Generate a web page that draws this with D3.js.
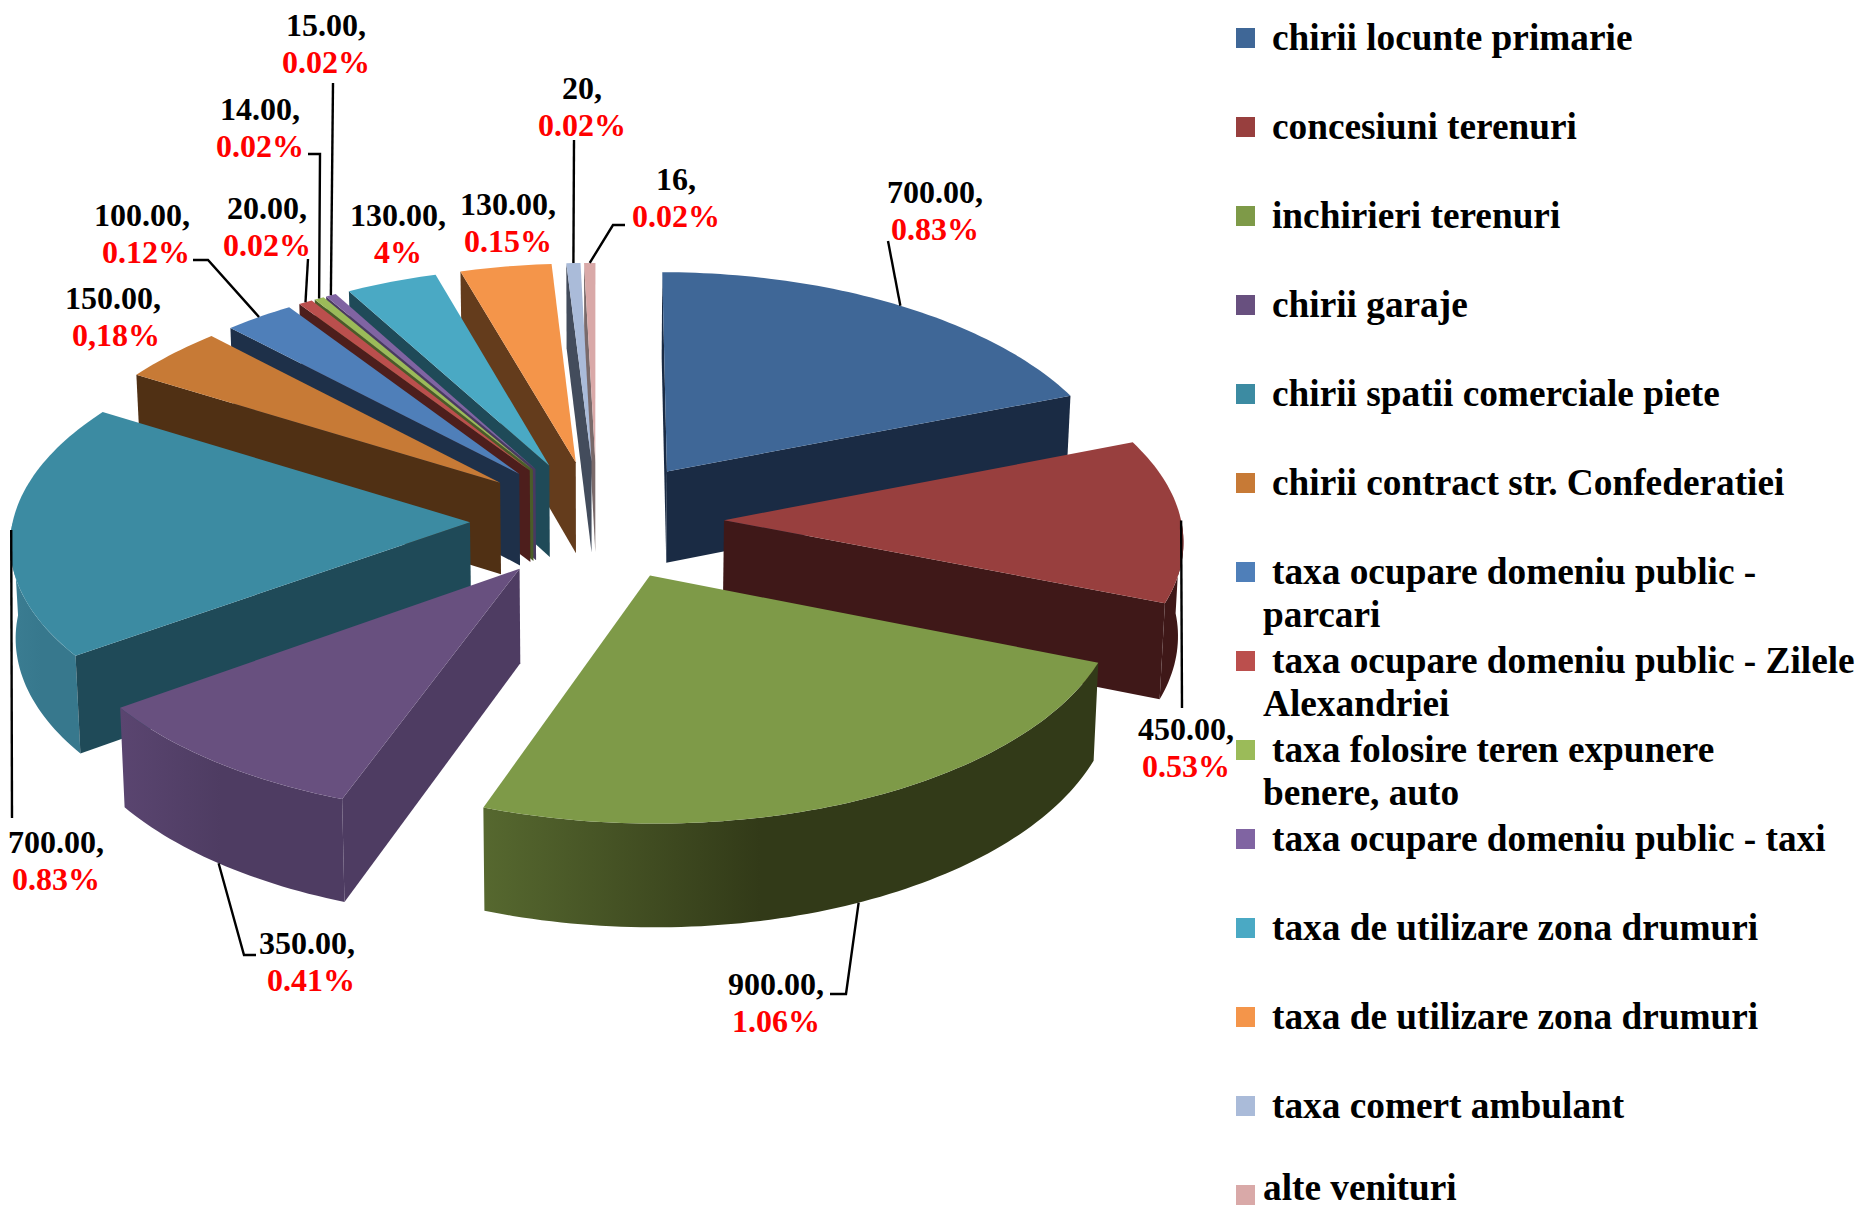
<!DOCTYPE html>
<html>
<head>
<meta charset="utf-8">
<script src="https://cdnjs.cloudflare.com/ajax/libs/d3/7.8.5/d3.min.js"></script>
<style>
body { margin: 0; background: #fff; }
text { font-family: "Liberation Serif", "Times New Roman", serif; font-weight: bold; }
</style>
</head>
<body>
<div id="chart"></div>
<script>
var categories = [
    ['chirii locunte primarie'],
    ['concesiuni terenuri'],
    ['inchirieri terenuri'],
    ['chirii garaje'],
    ['chirii spatii comerciale piete'],
    ['chirii contract str. Confederatiei'],
    ['taxa ocupare domeniu public -', 'parcari'],
    ['taxa ocupare domeniu public - Zilele', 'Alexandriei'],
    ['taxa folosire teren expunere', 'benere, auto'],
    ['taxa ocupare domeniu public - taxi'],
    ['taxa de utilizare zona drumuri'],
    ['taxa de utilizare zona drumuri'],
    ['taxa comert ambulant'],
    ['alte venituri']
];
var values = [700, 450, 900, 350, 700, 150, 100, 20, 14, 15, 130, 130, 20, 16];
var valueLabels = ['700.00,', '450.00,', '900.00,', '350.00,', '700.00,', '150.00,', '100.00,', '20.00,', '14.00,', '15.00,', '130.00,', '130.00,', '20,', '16,'];
var percentLabels = ['0.83%', '0.53%', '1.06%', '0.41%', '0.83%', '0,18%', '0.12%', '0.02%', '0.02%', '0.02%', '4%', '0.15%', '0.02%', '0.02%'];

var topColors = ['#3f6797', '#983f3e', '#7e9a48', '#68507f', '#3c8ba2', '#c77a36', '#4f7fb9', '#bb4f4d', '#9bbb59', '#8064a2', '#4aa9c4', '#f4954a', '#aabbd9', '#d9a9a8'];
var wallColors = ['#1a2b44', '#3f1818', '#333c1a', '#4e3c62', '#1f4a58', '#503014', '#1e3049', '#4d1e1c', '#4a5c28', '#4a3a60', '#1f4a58', '#643c1c', '#434c5c', '#7a6a6a'];
var outerLeftColors = ['#1a2b44', '#3f1818', '#56682f', '#5a4570', '#3b7d92', '#503014', '#1e3049', '#4d1e1c', '#4a5c28', '#4a3a60', '#1f4a58', '#643c1c', '#434c5c', '#7a6a6a'];
var outerRightColors = ['#1a2b44', '#3f1818', '#323a18', '#4e3c62', '#37788d', '#503014', '#1e3049', '#4d1e1c', '#4a5c28', '#4a3a60', '#1f4a58', '#643c1c', '#434c5c', '#7a6a6a'];

// label anchor (centre of the first line) for each slice
var labelPos = [[935, 193], [1186, 730], [776, 985], [307, 944], [56, 843], [113, 299], [142, 216], [267, 209], [260, 110], [326, 26], [398, 216], [508, 205], [582, 89], [676, 180]];
// small sideways offset of the red line against the black one
var percentShift = [0, 0, 0, 4, 0, 3, 4, 0, 0, 0, 0, 0, 0, 0];
// leader waypoints, the first point comes from the slice itself
var leaderPts = [
    [[888, 241]],
    [[1182, 708]],
    [[846, 994], [830, 994]],
    [[244, 955], [256, 955]],
    [[12, 818]],
    [],
    [[208, 260], [193, 260]],
    [[308, 259]],
    [[320, 154], [308, 154]],
    [[333, 83]],
    [],
    [],
    [[574, 140]],
    [[613, 225], [625, 225]]
];

var width = 1860;
var height = 1209;

var cx = 597;
var cy = 520;
var radius = 457;
var explode = 127;
var tilt = 0.47;
var depth = 93;

var svg = d3.select('#chart')
    .append('svg')
    .attr('width', width)
    .attr('height', height);

var defs = svg.append('defs');

// ground plane -> screen, with a bit of perspective towards the viewer
function project(x, y, drop){
    drop = drop || 0;
    var t = y / radius;
    var fx = 1 + 0.08 * t + 0.01 * t * t;
    var fy = 1 + 0.0758 * t + 0.0206 * t * t;
    return [cx + x * fx * (1 - drop * 0.0001), cy + y * tilt * fy + drop * fx];
}

function polar(d, a, r){
    var m = (d.startAngle + d.endAngle) / 2;
    return [
        explode * Math.sin(m) + r * Math.sin(a),
        -explode * Math.cos(m) - r * Math.cos(a)
    ];
}

function point(d, a, r, drop){
    var p = polar(d, a, r);
    return project(p[0], p[1], drop);
}

function arcPoints(d, a0, a1, drop){
    var n = Math.max(2, Math.ceil((a1 - a0) / 0.02));
    return d3.range(n + 1).map(function(i){
        return point(d, a0 + (a1 - a0) * i / n, radius, drop);
    });
}

var line = d3.line();

var pie = d3.pie().sort(null)(values);

var slices = pie.slice().sort(function(a, b){
    var ma = Math.abs((a.startAngle + a.endAngle) / 2 - Math.PI);
    var mb = Math.abs((b.startAngle + b.endAngle) / 2 - Math.PI);
    return d3.descending(ma, mb);
});

var group = svg.append('g').attr('id', 'pie');

slices.forEach(function(d){
    var i = d.index;
    var g = group.append('g');

    // back half of the rim is never seen
    var lo = Math.max(d.startAngle, Math.PI / 2);
    var hi = Math.min(d.endAngle, Math.PI * 1.5);
    if(hi > lo){
        var id = 'outer' + i;
        var grad = defs.append('linearGradient').attr('id', id);
        grad.append('stop').attr('offset', '0%').attr('stop-color', outerLeftColors[i]);
        grad.append('stop').attr('offset', '45%').attr('stop-color', outerRightColors[i]);
        grad.append('stop').attr('offset', '100%').attr('stop-color', outerRightColors[i]);
        var upper = arcPoints(d, lo, hi, 0);
        var lower = arcPoints(d, lo, hi, depth).reverse();
        g.append('path')
            .attr('d', line(upper.concat(lower)) + 'Z')
            .attr('fill', 'url(#' + id + ')');
    }

    [d.startAngle, d.endAngle].forEach(function(a, k){
        var seen = k === 0 ? Math.sin(a) < 0.0001 : Math.sin(a) > 0.0001;
        if(!seen) return;
        g.append('path')
            .attr('d', line([
                point(d, a, 0, 0),
                point(d, a, radius, 0),
                point(d, a, radius, depth),
                point(d, a, 0, depth)
            ]) + 'Z')
            .attr('fill', wallColors[i]);
    });

    g.append('path')
        .attr('d', line([point(d, d.startAngle, 0, 0)].concat(arcPoints(d, d.startAngle, d.endAngle, 0))) + 'Z')
        .attr('fill', topColors[i]);
});

// leader lines
var leaders = svg.append('g').attr('id', 'leaders');
pie.forEach(function(d){
    var i = d.index;
    if(!leaderPts[i].length) return;
    var m = (d.startAngle + d.endAngle) / 2;
    var front = Math.cos(m) < -0.05;
    leaders.append('path')
        .attr('d', line([point(d, m, radius, front ? depth : 0)].concat(leaderPts[i])))
        .attr('fill', 'none')
        .attr('stroke', '#000')
        .attr('stroke-width', 2.4);
});

// value labels
var labels = svg.append('g').attr('id', 'labels');
pie.forEach(function(d){
    var i = d.index;
    var t = labels.append('text')
        .attr('text-anchor', 'middle')
        .attr('font-size', 32);
    t.append('tspan')
        .attr('x', labelPos[i][0])
        .attr('y', labelPos[i][1] + 10)
        .attr('fill', '#000')
        .text(valueLabels[i]);
    t.append('tspan')
        .attr('x', labelPos[i][0] + percentShift[i])
        .attr('y', labelPos[i][1] + 47)
        .attr('fill', '#f00')
        .text(percentLabels[i]);
});

// legend
var legendY = d3.scalePoint()
    .domain(d3.range(categories.length))
    .range([38, 1195]);

var legend = svg.append('g').attr('id', 'legend');
categories.forEach(function(c, i){
    var y = legendY(i);
    legend.append('rect')
        .attr('x', 1236)
        .attr('y', y - 10)
        .attr('width', 19)
        .attr('height', 20)
        .attr('fill', topColors[i]);
    c.forEach(function(s, k){
        legend.append('text')
            .attr('x', (k === 0 && i < categories.length - 1) ? 1272 : 1263)
            .attr('y', Math.min(y + 12 + k * 43, 1200))
            .attr('font-size', 37.3)
            .attr('fill', '#000')
            .text(s);
    });
});
</script>
</body>
</html>
